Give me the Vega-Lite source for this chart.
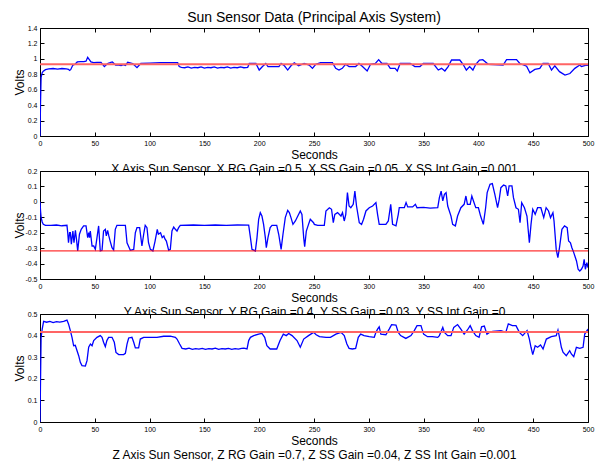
{
  "$schema": "https://vega.github.io/schema/vega-lite/v6.json",
  "background": "white",
  "padding": {"left": 12, "top": 10, "right": 5, "bottom": 5},
  "spacing": 35,
  "bounds": "flush",
  "datasets": {
    "xs": [
      {"t":0,"v":0},{"t":0.5,"v":0.45},{"t":1,"v":0.76},{"t":2,"v":0.82},{"t":3,"v":0.84},{"t":5,"v":0.86},{"t":8,"v":0.87},{"t":12,"v":0.875},{"t":16,"v":0.868},{"t":20,"v":0.875},{"t":24,"v":0.87},{"t":26,"v":0.865},{"t":27,"v":0.85},{"t":28,"v":0.86},{"t":30,"v":0.92},{"t":32,"v":0.93},{"t":34,"v":0.96},{"t":37,"v":0.965},{"t":40,"v":0.965},{"t":42,"v":0.97},{"t":43.5,"v":1.02},{"t":45,"v":0.99},{"t":46.5,"v":0.96},{"t":49,"v":0.95},{"t":52,"v":0.955},{"t":55.7,"v":0.955},{"t":58.7,"v":0.9},{"t":61.7,"v":0.94},{"t":64,"v":0.95},{"t":66,"v":0.96},{"t":69,"v":0.92},{"t":72,"v":0.92},{"t":74,"v":0.912},{"t":76,"v":0.925},{"t":78,"v":0.915},{"t":80,"v":0.955},{"t":84.5,"v":0.94},{"t":86,"v":0.92},{"t":88.5,"v":0.886},{"t":90,"v":0.91},{"t":92,"v":0.94},{"t":100,"v":0.945},{"t":110,"v":0.95},{"t":120,"v":0.95},{"t":125.6,"v":0.95},{"t":127,"v":0.9},{"t":129,"v":0.89},{"t":132,"v":0.885},{"t":135,"v":0.895},{"t":138,"v":0.88},{"t":141,"v":0.89},{"t":144,"v":0.885},{"t":147,"v":0.895},{"t":150,"v":0.88},{"t":153,"v":0.89},{"t":156,"v":0.885},{"t":159,"v":0.895},{"t":162,"v":0.88},{"t":165,"v":0.89},{"t":168,"v":0.885},{"t":171,"v":0.895},{"t":174,"v":0.88},{"t":177,"v":0.89},{"t":180,"v":0.885},{"t":183,"v":0.895},{"t":186,"v":0.885},{"t":189.5,"v":0.89},{"t":191,"v":0.94},{"t":197,"v":0.94},{"t":200,"v":0.855},{"t":203,"v":0.9},{"t":206,"v":0.94},{"t":208,"v":0.9},{"t":218,"v":0.9},{"t":220,"v":0.94},{"t":223,"v":0.91},{"t":226,"v":0.855},{"t":229,"v":0.91},{"t":232,"v":0.95},{"t":236,"v":0.91},{"t":241,"v":0.94},{"t":245.6,"v":0.92},{"t":248.6,"v":0.877},{"t":251.6,"v":0.93},{"t":256,"v":0.95},{"t":266.8,"v":0.95},{"t":269.8,"v":0.877},{"t":272.8,"v":0.855},{"t":275.8,"v":0.877},{"t":278.8,"v":0.93},{"t":282,"v":0.9},{"t":288,"v":0.9},{"t":291,"v":0.94},{"t":294,"v":0.905},{"t":298.5,"v":0.843},{"t":301.6,"v":0.93},{"t":306,"v":0.94},{"t":309,"v":0.99},{"t":312,"v":0.94},{"t":316.6,"v":0.94},{"t":319.6,"v":0.877},{"t":324,"v":0.877},{"t":326,"v":0.843},{"t":328.6,"v":0.94},{"t":337.8,"v":0.94},{"t":342,"v":0.9},{"t":346.7,"v":0.9},{"t":349.7,"v":0.94},{"t":358.8,"v":0.94},{"t":363.4,"v":0.855},{"t":366.4,"v":0.877},{"t":369.4,"v":0.843},{"t":372.4,"v":0.9},{"t":375.5,"v":0.985},{"t":383,"v":0.985},{"t":386,"v":0.93},{"t":389,"v":0.855},{"t":392,"v":0.9},{"t":395,"v":0.855},{"t":397.6,"v":0.93},{"t":401,"v":0.985},{"t":404,"v":0.99},{"t":409,"v":0.93},{"t":422.6,"v":0.92},{"t":425.7,"v":0.99},{"t":434.8,"v":0.99},{"t":437.8,"v":0.94},{"t":444,"v":0.905},{"t":447,"v":0.82},{"t":451.5,"v":0.864},{"t":456,"v":0.877},{"t":459,"v":0.94},{"t":463.7,"v":0.94},{"t":466.7,"v":0.855},{"t":469.7,"v":0.91},{"t":474,"v":0.834},{"t":479,"v":0.79},{"t":483.5,"v":0.81},{"t":488,"v":0.877},{"t":492.5,"v":0.92},{"t":494,"v":0.9},{"t":498.6,"v":0.92},{"t":500,"v":0.915}
    ],
    "xr": [{"t":0,"v":0.929},{"t":500,"v":0.929}],
    "ys": [
      {"t":0,"v":0},{"t":0.5,"v":-0.06},{"t":1,"v":-0.1},{"t":2,"v":-0.13},{"t":3,"v":-0.145},{"t":5,"v":-0.152},{"t":10,"v":-0.153},{"t":15,"v":-0.15},{"t":20,"v":-0.155},{"t":24.6,"v":-0.152},{"t":25.3,"v":-0.2},{"t":26,"v":-0.265},{"t":27,"v":-0.2},{"t":27.7,"v":-0.2},{"t":28.6,"v":-0.275},{"t":30,"v":-0.19},{"t":31,"v":-0.265},{"t":32.3,"v":-0.185},{"t":33.3,"v":-0.243},{"t":34.4,"v":-0.318},{"t":36,"v":-0.21},{"t":37.6,"v":-0.178},{"t":39.8,"v":-0.156},{"t":42,"v":-0.156},{"t":43.5,"v":-0.232},{"t":44.5,"v":-0.2},{"t":45.2,"v":-0.232},{"t":45.9,"v":-0.189},{"t":47.5,"v":-0.286},{"t":49,"v":-0.286},{"t":50.5,"v":-0.308},{"t":52,"v":-0.232},{"t":53.5,"v":-0.156},{"t":55,"v":-0.318},{"t":56.6,"v":-0.314},{"t":58,"v":-0.189},{"t":59.6,"v":-0.178},{"t":60.5,"v":-0.221},{"t":61.7,"v":-0.185},{"t":62.8,"v":-0.221},{"t":64,"v":-0.254},{"t":65.7,"v":-0.297},{"t":67.2,"v":-0.312},{"t":68.7,"v":-0.178},{"t":70.2,"v":-0.152},{"t":73,"v":-0.152},{"t":77.9,"v":-0.152},{"t":79.4,"v":-0.265},{"t":82.4,"v":-0.314},{"t":85.5,"v":-0.308},{"t":87,"v":-0.2},{"t":88.5,"v":-0.167},{"t":90.9,"v":-0.167},{"t":93,"v":-0.286},{"t":94.6,"v":-0.21},{"t":96,"v":-0.152},{"t":97.6,"v":-0.167},{"t":99,"v":-0.265},{"t":100.7,"v":-0.308},{"t":103,"v":-0.318},{"t":105,"v":-0.254},{"t":107,"v":-0.178},{"t":108,"v":-0.21},{"t":110,"v":-0.2},{"t":111.5,"v":-0.232},{"t":113,"v":-0.221},{"t":114,"v":-0.24},{"t":115.3,"v":-0.254},{"t":117.4,"v":-0.314},{"t":118.9,"v":-0.308},{"t":120.4,"v":-0.189},{"t":122,"v":-0.163},{"t":123.5,"v":-0.178},{"t":125,"v":-0.189},{"t":126.5,"v":-0.167},{"t":128,"v":-0.152},{"t":140,"v":-0.15},{"t":150,"v":-0.153},{"t":160,"v":-0.15},{"t":170,"v":-0.152},{"t":180,"v":-0.15},{"t":190.4,"v":-0.151},{"t":192,"v":-0.232},{"t":193.4,"v":-0.308},{"t":196.5,"v":-0.318},{"t":198,"v":-0.232},{"t":199.5,"v":-0.113},{"t":201,"v":-0.07},{"t":202.5,"v":-0.092},{"t":204,"v":-0.146},{"t":205.6,"v":-0.232},{"t":206.5,"v":-0.297},{"t":208,"v":-0.232},{"t":210,"v":-0.167},{"t":211.7,"v":-0.152},{"t":216,"v":-0.152},{"t":217.8,"v":-0.21},{"t":220,"v":-0.308},{"t":221.7,"v":-0.21},{"t":223.8,"v":-0.102},{"t":226,"v":-0.055},{"t":227.5,"v":-0.07},{"t":229,"v":-0.102},{"t":230.8,"v":-0.146},{"t":233,"v":-0.124},{"t":237.5,"v":-0.059},{"t":239,"v":-0.081},{"t":240.6,"v":-0.232},{"t":241.5,"v":-0.29},{"t":243,"v":-0.189},{"t":245,"v":-0.146},{"t":246.6,"v":-0.113},{"t":249.6,"v":-0.135},{"t":250.3,"v":-0.146},{"t":253.4,"v":-0.152},{"t":259.4,"v":-0.152},{"t":260.9,"v":-0.059},{"t":264,"v":-0.038},{"t":266,"v":-0.048},{"t":267.6,"v":-0.135},{"t":269,"v":-0.081},{"t":271.5,"v":-0.07},{"t":274.6,"v":-0.092},{"t":276,"v":-0.07},{"t":277.6,"v":-0.124},{"t":279,"v":-0.081},{"t":280.5,"v":0.06},{"t":282,"v":-0.027},{"t":283.6,"v":-0.038},{"t":285.8,"v":-0.016},{"t":287.3,"v":0.07},{"t":288.8,"v":-0.027},{"t":291.3,"v":-0.135},{"t":293.4,"v":-0.146},{"t":295.2,"v":-0.113},{"t":297.4,"v":-0.059},{"t":300.4,"v":-0.038},{"t":303.5,"v":-0.027},{"t":306.5,"v":-0.005},{"t":308,"v":-0.081},{"t":309.5,"v":-0.146},{"t":315.6,"v":-0.146},{"t":317.8,"v":-0.124},{"t":320,"v":-0.016},{"t":321.7,"v":-0.146},{"t":324.8,"v":-0.156},{"t":326.9,"v":-0.081},{"t":327.8,"v":-0.038},{"t":332.4,"v":-0.038},{"t":334,"v":-0.005},{"t":335.5,"v":-0.033},{"t":340,"v":-0.033},{"t":342.5,"v":-0.016},{"t":344,"v":-0.038},{"t":350,"v":-0.036},{"t":356,"v":-0.04},{"t":362.9,"v":-0.038},{"t":364.4,"v":0.027},{"t":366,"v":0.07},{"t":367.5,"v":0.006},{"t":369,"v":0.049},{"t":370.5,"v":0.06},{"t":372,"v":-0.027},{"t":375,"v":-0.092},{"t":376.5,"v":-0.146},{"t":379,"v":-0.156},{"t":381,"v":-0.092},{"t":384,"v":-0.038},{"t":387,"v":-0.016},{"t":388.6,"v":0.038},{"t":390,"v":-0.016},{"t":392.5,"v":-0.016},{"t":394,"v":0.038},{"t":395.5,"v":0.006},{"t":397.6,"v":-0.038},{"t":400,"v":-0.038},{"t":402,"v":-0.092},{"t":404.5,"v":-0.146},{"t":406.6,"v":-0.038},{"t":408,"v":0.06},{"t":410.6,"v":0.114},{"t":412.7,"v":0.118},{"t":415,"v":0.049},{"t":417.5,"v":-0.038},{"t":419,"v":0.016},{"t":420.5,"v":0.092},{"t":423,"v":0.109},{"t":425,"v":0.103},{"t":426.7,"v":0.038},{"t":428,"v":0.103},{"t":430.6,"v":0.103},{"t":432,"v":0.027},{"t":434.3,"v":-0.038},{"t":436.5,"v":-0.048},{"t":438,"v":-0.135},{"t":439.5,"v":-0.005},{"t":442,"v":-0.038},{"t":444.3,"v":-0.092},{"t":446.5,"v":-0.265},{"t":448,"v":-0.146},{"t":449.6,"v":-0.048},{"t":451.8,"v":-0.081},{"t":454,"v":-0.038},{"t":457,"v":-0.038},{"t":459.6,"v":-0.102},{"t":461.8,"v":-0.038},{"t":464,"v":-0.059},{"t":465.8,"v":-0.102},{"t":468,"v":-0.07},{"t":469,"v":-0.124},{"t":471,"v":-0.308},{"t":472.5,"v":-0.362},{"t":474,"v":-0.297},{"t":476.2,"v":-0.178},{"t":478.6,"v":-0.156},{"t":481,"v":-0.167},{"t":482.3,"v":-0.254},{"t":484,"v":-0.265},{"t":485.3,"v":-0.297},{"t":487,"v":-0.329},{"t":489.5,"v":-0.383},{"t":491,"v":-0.437},{"t":492.5,"v":-0.448},{"t":494,"v":-0.437},{"t":495.5,"v":-0.416},{"t":496.5,"v":-0.372},{"t":497.6,"v":-0.437},{"t":499,"v":-0.394},{"t":500,"v":-0.427}
    ],
    "yr": [{"t":0,"v":-0.318},{"t":500,"v":-0.318}],
    "zs": [
      {"t":0,"v":0},{"t":0.5,"v":0.2},{"t":1,"v":0.39},{"t":2,"v":0.43},{"t":3.3,"v":0.466},{"t":6,"v":0.462},{"t":9,"v":0.466},{"t":12,"v":0.46},{"t":15,"v":0.465},{"t":18,"v":0.462},{"t":21.6,"v":0.466},{"t":24.6,"v":0.472},{"t":26,"v":0.454},{"t":27.7,"v":0.423},{"t":29.2,"v":0.392},{"t":30.7,"v":0.353},{"t":32.2,"v":0.355},{"t":33.8,"v":0.33},{"t":35.3,"v":0.307},{"t":36.8,"v":0.276},{"t":38.3,"v":0.261},{"t":41.4,"v":0.259},{"t":42.9,"v":0.284},{"t":44.4,"v":0.346},{"t":46,"v":0.361},{"t":47.5,"v":0.353},{"t":49,"v":0.377},{"t":52,"v":0.392},{"t":55,"v":0.4},{"t":56.6,"v":0.392},{"t":58,"v":0.369},{"t":59.6,"v":0.349},{"t":61,"v":0.377},{"t":62.6,"v":0.392},{"t":65.7,"v":0.392},{"t":67.8,"v":0.369},{"t":69.3,"v":0.322},{"t":71.8,"v":0.312},{"t":76.3,"v":0.312},{"t":77.9,"v":0.318},{"t":79.4,"v":0.361},{"t":80.9,"v":0.389},{"t":83.9,"v":0.392},{"t":85.5,"v":0.369},{"t":87,"v":0.343},{"t":90,"v":0.343},{"t":91.5,"v":0.384},{"t":94.6,"v":0.392},{"t":106.7,"v":0.392},{"t":112.8,"v":0.397},{"t":118.9,"v":0.398},{"t":123.5,"v":0.392},{"t":125,"v":0.384},{"t":127.4,"v":0.361},{"t":129.6,"v":0.341},{"t":133,"v":0.338},{"t":136,"v":0.342},{"t":139,"v":0.336},{"t":142,"v":0.34},{"t":145,"v":0.337},{"t":148,"v":0.341},{"t":151,"v":0.336},{"t":154,"v":0.34},{"t":157,"v":0.338},{"t":160,"v":0.342},{"t":163,"v":0.336},{"t":166,"v":0.34},{"t":169,"v":0.338},{"t":172,"v":0.341},{"t":175,"v":0.336},{"t":178,"v":0.34},{"t":181,"v":0.337},{"t":184,"v":0.341},{"t":186,"v":0.342},{"t":188.9,"v":0.338},{"t":190.4,"v":0.377},{"t":192,"v":0.392},{"t":195,"v":0.4},{"t":199.5,"v":0.407},{"t":202.5,"v":0.41},{"t":205,"v":0.392},{"t":207,"v":0.353},{"t":210,"v":0.338},{"t":216,"v":0.338},{"t":219,"v":0.377},{"t":222,"v":0.407},{"t":224.7,"v":0.4},{"t":226.9,"v":0.41},{"t":230,"v":0.4},{"t":234.5,"v":0.377},{"t":237.5,"v":0.346},{"t":240.6,"v":0.384},{"t":245,"v":0.4},{"t":249.6,"v":0.415},{"t":252,"v":0.404},{"t":255,"v":0.395},{"t":261,"v":0.392},{"t":265,"v":0.392},{"t":270,"v":0.407},{"t":274.6,"v":0.415},{"t":277.6,"v":0.4},{"t":280,"v":0.361},{"t":282,"v":0.341},{"t":285,"v":0.338},{"t":288,"v":0.341},{"t":290.4,"v":0.392},{"t":292.6,"v":0.407},{"t":295.7,"v":0.4},{"t":300.4,"v":0.395},{"t":305,"v":0.392},{"t":306.5,"v":0.415},{"t":308,"v":0.43},{"t":309.5,"v":0.441},{"t":311,"v":0.407},{"t":315.6,"v":0.404},{"t":318.6,"v":0.43},{"t":320.8,"v":0.451},{"t":324.8,"v":0.449},{"t":326.9,"v":0.415},{"t":329,"v":0.4},{"t":333.8,"v":0.387},{"t":338.5,"v":0.4},{"t":341.5,"v":0.423},{"t":344,"v":0.446},{"t":347.6,"v":0.446},{"t":350,"v":0.407},{"t":353.6,"v":0.395},{"t":358,"v":0.395},{"t":362.9,"v":0.392},{"t":364.4,"v":0.4},{"t":367.5,"v":0.438},{"t":369,"v":0.415},{"t":372,"v":0.4},{"t":375,"v":0.4},{"t":377.5,"v":0.438},{"t":381,"v":0.451},{"t":384,"v":0.43},{"t":387,"v":0.407},{"t":390,"v":0.426},{"t":392.5,"v":0.446},{"t":394.6,"v":0.423},{"t":397.6,"v":0.4},{"t":400.6,"v":0.392},{"t":402.9,"v":0.441},{"t":405.4,"v":0.444},{"t":407.8,"v":0.407},{"t":410,"v":0.415},{"t":413,"v":0.42},{"t":420.6,"v":0.423},{"t":425,"v":0.415},{"t":427.3,"v":0.454},{"t":431,"v":0.446},{"t":434.3,"v":0.446},{"t":437.4,"v":0.415},{"t":440.4,"v":0.4},{"t":444.4,"v":0.423},{"t":446.5,"v":0.384},{"t":448,"v":0.346},{"t":449.6,"v":0.312},{"t":451.8,"v":0.353},{"t":454,"v":0.346},{"t":456.7,"v":0.357},{"t":459,"v":0.338},{"t":462,"v":0.384},{"t":466.5,"v":0.395},{"t":471,"v":0.4},{"t":472.6,"v":0.426},{"t":474,"v":0.392},{"t":475.7,"v":0.346},{"t":477.2,"v":0.323},{"t":480.2,"v":0.307},{"t":483.3,"v":0.33},{"t":484.8,"v":0.315},{"t":487,"v":0.302},{"t":489.4,"v":0.346},{"t":492.5,"v":0.341},{"t":495.5,"v":0.346},{"t":497,"v":0.407},{"t":499.5,"v":0.426},{"t":500,"v":0.42}
    ],
    "zr": [{"t":0,"v":0.417},{"t":500,"v":0.417}]
  },
  "vconcat": [
    {
      "width": 548, "height": 108,
      "title": {"text": "Sun Sensor Data (Principal Axis System)", "fontSize": 14, "fontWeight": "normal", "anchor": "middle", "baseline": "alphabetic", "offset": -12, "color": "black"},
      "layer": [
        {
          "data": {"name": "xs"},
          "mark": {"type": "line", "color": "#0000ff", "strokeWidth": 1.3, "clip": true},
          "encoding": {
            "x": {"field": "t", "type": "quantitative", "scale": {"domain": [0, 500], "nice": false},
                  "axis": {"orient": "bottom", "values": [0,50,100,150,200,250,300,350,400,450,500], "title": ["Seconds", "X Axis Sun Sensor, X RG Gain =0.5, X SS Gain =0.05, X SS Int Gain =0.001"]}},
            "y": {"field": "v", "type": "quantitative", "scale": {"domain": [0, 1.4], "nice": false, "zero": false},
                  "axis": {"orient": "left", "values": [0,0.2,0.4,0.6,0.8,1,1.2,1.4], "title": "Volts"}}
          }
        },
        {
          "data": {"name": "xr"},
          "mark": {"type": "line", "color": "#ff6464", "strokeWidth": 2},
          "encoding": {
            "x": {"field": "t", "type": "quantitative", "axis": {"orient": "top", "values": [0,50,100,150,200,250,300,350,400,450,500], "labels": false, "title": null}},
            "y": {"field": "v", "type": "quantitative", "axis": {"orient": "right", "values": [0,0.2,0.4,0.6,0.8,1,1.2,1.4], "labels": false, "title": null}}
          }
        }
      ],
      "resolve": {"axis": {"x": "independent", "y": "independent"}}
    },
    {
      "width": 548, "height": 108,
      "layer": [
        {
          "data": {"name": "ys"},
          "mark": {"type": "line", "color": "#0000ff", "strokeWidth": 1.3, "clip": true},
          "encoding": {
            "x": {"field": "t", "type": "quantitative", "scale": {"domain": [0, 500], "nice": false},
                  "axis": {"orient": "bottom", "values": [0,50,100,150,200,250,300,350,400,450,500], "title": ["Seconds", "Y Axis Sun Sensor, Y RG Gain =0.4, Y SS Gain =0.03, Y SS Int Gain =0"]}},
            "y": {"field": "v", "type": "quantitative", "scale": {"domain": [-0.5, 0.2], "nice": false, "zero": false},
                  "axis": {"orient": "left", "values": [-0.5,-0.4,-0.3,-0.2,-0.1,0,0.1,0.2], "title": "Volts"}}
          }
        },
        {
          "data": {"name": "yr"},
          "mark": {"type": "line", "color": "#ff0000", "strokeWidth": 1},
          "encoding": {
            "x": {"field": "t", "type": "quantitative", "axis": {"orient": "top", "values": [0,50,100,150,200,250,300,350,400,450,500], "labels": false, "title": null}},
            "y": {"field": "v", "type": "quantitative", "axis": {"orient": "right", "values": [-0.5,-0.4,-0.3,-0.2,-0.1,0,0.1,0.2], "labels": false, "title": null}}
          }
        }
      ],
      "resolve": {"axis": {"x": "independent", "y": "independent"}}
    },
    {
      "width": 548, "height": 108,
      "layer": [
        {
          "data": {"name": "zs"},
          "mark": {"type": "line", "color": "#0000ff", "strokeWidth": 1.3, "clip": true},
          "encoding": {
            "x": {"field": "t", "type": "quantitative", "scale": {"domain": [0, 500], "nice": false},
                  "axis": {"orient": "bottom", "values": [0,50,100,150,200,250,300,350,400,450,500], "title": ["Seconds", "Z Axis Sun Sensor, Z RG Gain =0.7, Z SS Gain =0.04, Z SS Int Gain =0.001"]}},
            "y": {"field": "v", "type": "quantitative", "scale": {"domain": [0, 0.5], "nice": false, "zero": false},
                  "axis": {"orient": "left", "values": [0,0.1,0.2,0.3,0.4,0.5], "title": "Volts"}}
          }
        },
        {
          "data": {"name": "zr"},
          "mark": {"type": "line", "color": "#ff6464", "strokeWidth": 2},
          "encoding": {
            "x": {"field": "t", "type": "quantitative", "axis": {"orient": "top", "values": [0,50,100,150,200,250,300,350,400,450,500], "labels": false, "title": null}},
            "y": {"field": "v", "type": "quantitative", "axis": {"orient": "right", "values": [0,0.1,0.2,0.3,0.4,0.5], "labels": false, "title": null}}
          }
        }
      ],
      "resolve": {"axis": {"x": "independent", "y": "independent"}}
    }
  ],
  "config": {
    "font": "Liberation Sans",
    "view": {"stroke": "black", "strokeWidth": 1, "fill": "white"},
    "axis": {
      "grid": false, "domain": false,
      "tickColor": "black", "tickSize": -4, "tickWidth": 1,
      "labelFont": "Liberation Sans", "labelFontSize": 7, "labelColor": "black", "labelPadding": 7,
      "labelFlush": false, "labelOverlap": false, "labelBound": false,
      "labelExpr": "replace(format(datum.value, '~g'), '\u2212', '-')",
      "titleFont": "Liberation Sans", "titleFontSize": 12, "titleFontWeight": "normal", "titleColor": "black"
    },
    "axisBottom": {"titleY": 22, "titleBaseline": "alphabetic", "titleLineHeight": 14},
    "axisLeft": {"titleX": -21, "titleY": 54, "titleAngle": -90, "titleAlign": "center", "titleBaseline": "middle"}
  }
}
